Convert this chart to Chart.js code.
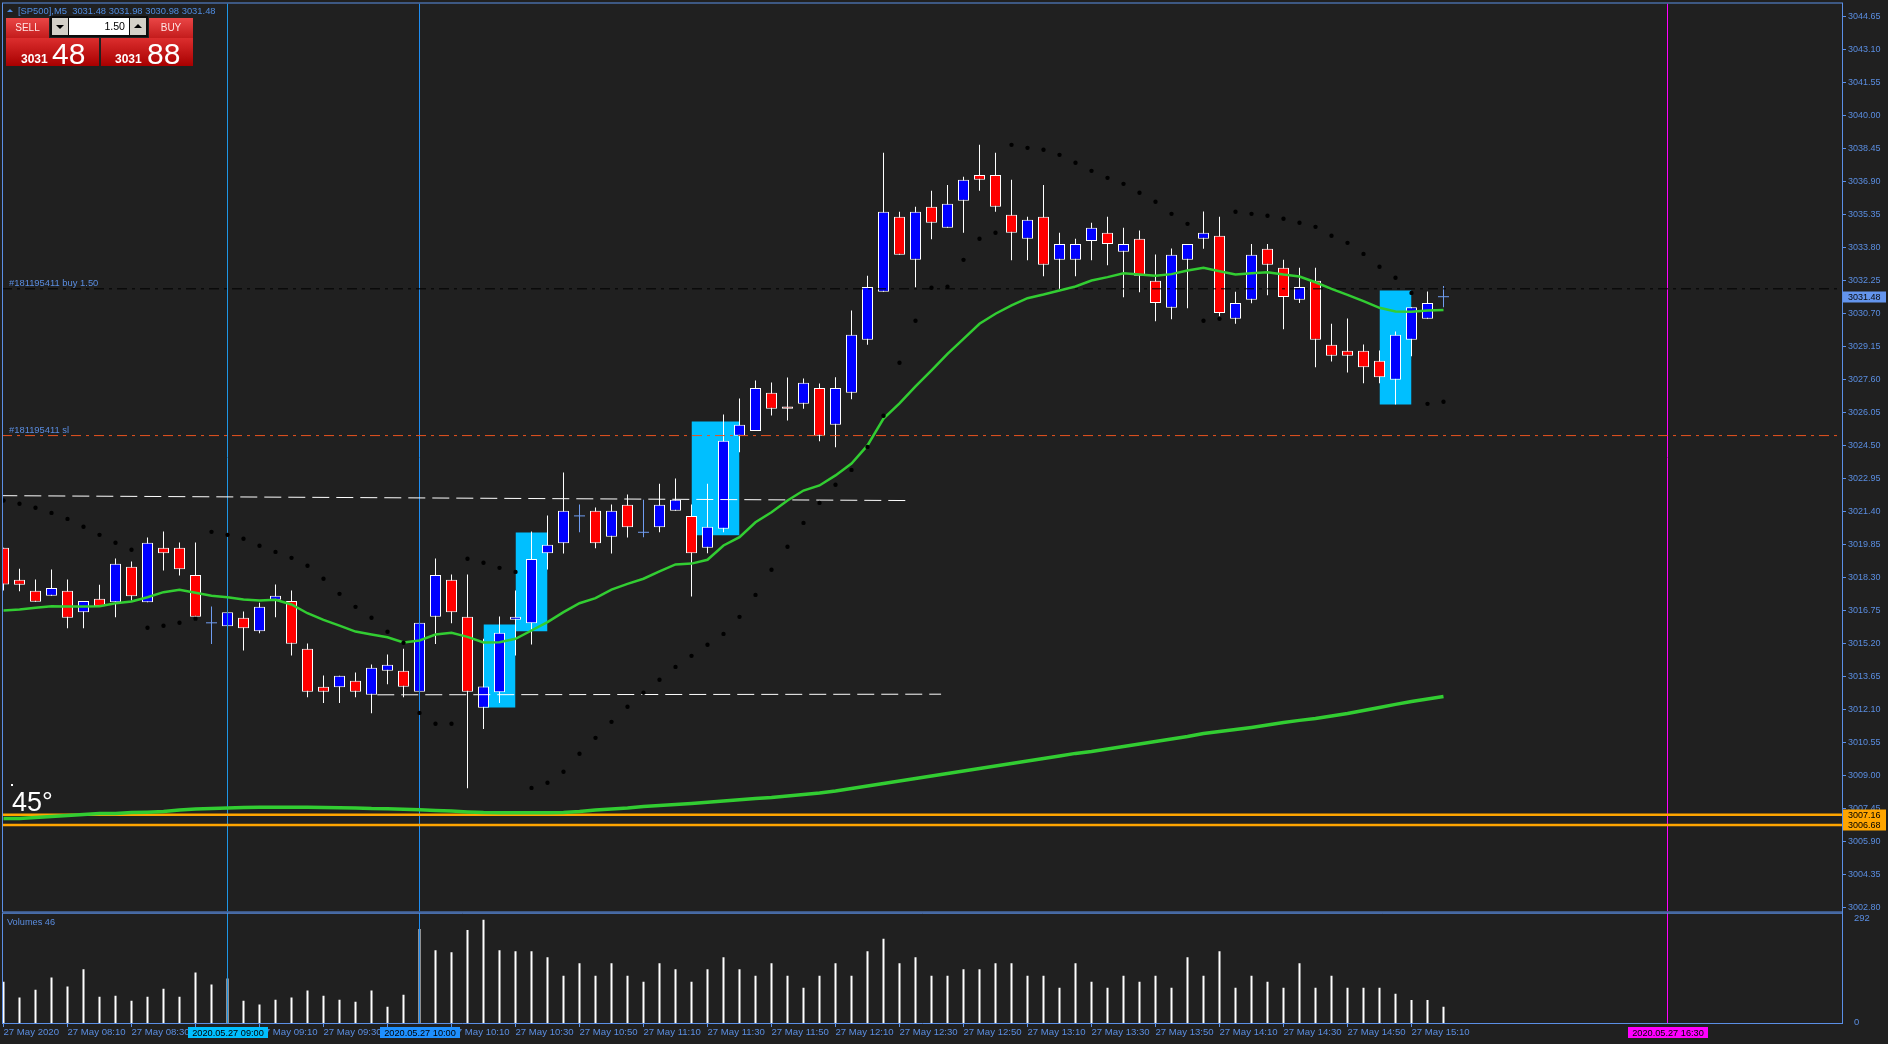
<!DOCTYPE html>
<html>
<head>
<meta charset="utf-8">
<script src="https://cdn.jsdelivr.net/npm/chart.js@4.4.1/dist/chart.umd.min.js"></script>
<style>
html, body { margin: 0; padding: 0; background: #202020; width: 1888px; height: 1044px; overflow: hidden; font-family: "Liberation Sans", Arial, sans-serif; }
#main { position: absolute; left: 0; top: 0; }
#vol { position: absolute; left: 0; top: 912px; }
.ov { position: absolute; white-space: nowrap; }
#hdr { left: 18px; top: 6px; font-size: 9.4px; line-height: 10px; color: #4f8ce0; }
#tri { left: 7px; top: 9px; width: 0; height: 0; border-left: 3px solid transparent; border-right: 3px solid transparent; border-bottom: 3px solid #4f8ce0; }
.tab { top: 18px; height: 20px; background: linear-gradient(#ea4646, #c41c1c); color: #ffe4e4; font-size: 10px; line-height: 20px; text-align: center; }
#sellTab { left: 6px; width: 43px; }
#buyTab { left: 149px; width: 44px; }
#spin { left: 50px; top: 16px; width: 98px; height: 21px; background: #0c0c0c; }
.btn { top: 18px; width: 16px; height: 17px; background: #d4d0c8; }
#dn { left: 52px; }
#up { left: 130px; }
.arr { position: absolute; left: 4px; width: 0; height: 0; border-left: 4px solid transparent; border-right: 4px solid transparent; }
#dn .arr { top: 7px; border-top: 4px solid #000; }
#up .arr { top: 6px; border-bottom: 4px solid #000; }
#lot { left: 69px; top: 18px; width: 56px; height: 17px; padding-right: 4px; background: #fff; color: #000; font-size: 10.6px; line-height: 17px; text-align: right; }
.pbox { top: 38px; height: 28px; background: linear-gradient(#dc2e2e, #a80000); color: #fff; overflow: hidden; }
#sellBox { left: 6px; width: 93px; }
#buyBox { left: 101px; width: 92px; }
.sm { position: absolute; top: 15px; font-size: 12px; line-height: 12px; font-weight: bold; }
.bg { position: absolute; top: 1px; font-size: 30px; line-height: 30px; }
#deg { left: 12px; top: 789px; font-size: 27px; line-height: 27px; color: #fff; }
#dot { left: 11px; top: 784px; width: 2px; height: 2px; background: #fff; }
</style>
</head>
<body>
<canvas id="main" width="1888" height="912"></canvas>
<canvas id="vol" width="1888" height="132"></canvas>

<div class="ov" id="tri"></div>
<div class="ov" id="hdr">[SP500],M5&nbsp; 3031.48 3031.98 3030.98 3031.48</div>
<div class="ov tab" id="sellTab">SELL</div>
<div class="ov tab" id="buyTab">BUY</div>
<div class="ov" id="spin"></div>
<div class="ov btn" id="dn"><div class="arr"></div></div>
<div class="ov" id="lot">1.50</div>
<div class="ov btn" id="up"><div class="arr"></div></div>
<div class="ov pbox" id="sellBox"><span class="sm" style="left:15px">3031</span><span class="bg" style="left:46px">48</span></div>
<div class="ov pbox" id="buyBox"><span class="sm" style="left:14px">3031</span><span class="bg" style="left:46px">88</span></div>
<div class="ov" id="dot"></div>
<div class="ov" id="deg">45°</div>

<script>
// M5 bars, 27 May 2020 07:50 .. 15:20
const opens = [3019.69,3018.19,3017.67,3017.44,3017.67,3016.67,3017.30,3017.14,3018.80,3017.14,
  3019.69,3019.69,3018.42,3016.17,3016.01,3016.41,3015.78,3017.25,3017.20,3014.95,
  3013.17,3013.15,3013.45,3012.79,3013.92,3013.92,3012.93,3016.45,3018.19,3016.45,
  3012.18,3012.91,3016.31,3016.15,3019.44,3019.91,3021.19,3021.43,3020.21,3021.71,
  3020.42,3020.66,3021.43,3021.19,3019.69,3020.59,3024.95,3025.17,3026.97,3026.33,
  3026.45,3027.20,3025.47,3026.97,3029.46,3031.71,3035.23,3033.21,3035.70,3034.72,
  3035.98,3037.20,3037.20,3035.33,3034.20,3035.23,3033.21,3033.21,3034.10,3034.48,
  3033.59,3034.20,3032.23,3030.96,3033.21,3034.20,3034.34,3030.44,3031.34,3033.73,
  3032.84,3031.34,3032.23,3029.22,3028.94,3028.94,3028.47,3027.58,3029.46,3030.44,
  3031.48];
const highs = [3019.69,3018.71,3018.20,3018.67,3018.20,3017.20,3017.96,3019.19,3019.05,3020.17,
  3020.46,3019.94,3019.94,3016.94,3016.67,3016.70,3017.11,3017.97,3017.69,3015.20,
  3013.70,3013.68,3013.84,3014.21,3014.68,3014.95,3016.17,3019.19,3018.44,3018.44,
  3015.42,3016.47,3017.69,3020.46,3021.21,3023.23,3021.72,3021.58,3021.72,3022.19,
  3021.95,3022.70,3022.95,3021.72,3022.70,3025.95,3026.70,3027.55,3027.45,3027.69,
  3027.64,3027.41,3027.70,3030.83,3032.46,3038.24,3035.47,3035.70,3036.45,3036.73,
  3037.11,3038.61,3038.24,3036.97,3035.23,3036.73,3034.48,3034.20,3034.95,3035.23,
  3034.72,3034.59,3033.46,3033.74,3033.96,3035.48,3035.23,3031.71,3033.96,3033.96,
  3033.21,3032.84,3032.84,3030.21,3030.46,3029.24,3028.95,3029.85,3030.99,3031.72,
  3031.98];
const lows = [3017.69,3017.65,3017.16,3017.44,3015.92,3015.92,3016.95,3016.43,3017.22,3017.14,
  3018.63,3018.39,3016.28,3015.17,3016.01,3014.87,3015.68,3016.43,3014.64,3012.68,
  3012.40,3012.40,3012.68,3011.93,3013.29,3012.68,3012.93,3015.17,3016.15,3008.40,
  3011.19,3012.40,3014.64,3015.15,3018.67,3019.42,3020.42,3019.67,3019.42,3020.17,
  3020.19,3020.42,3021.43,3017.41,3019.44,3020.42,3024.18,3025.17,3025.90,3025.67,
  3026.22,3024.70,3024.41,3026.67,3029.22,3031.71,3033.45,3031.93,3034.18,3034.72,
  3034.48,3036.45,3035.47,3033.19,3033.19,3032.44,3031.85,3032.44,3033.19,3032.96,
  3031.46,3031.69,3030.33,3030.42,3030.94,3033.73,3030.56,3030.21,3031.17,3031.55,
  3029.95,3031.19,3028.17,3028.44,3027.92,3027.42,3027.42,3026.42,3028.69,3030.44,
  3030.98];
const closes = [3017.97,3017.96,3017.16,3017.81,3016.41,3017.20,3016.95,3018.94,3017.42,3019.93,
  3019.44,3018.69,3016.45,3016.17,3016.67,3015.92,3016.92,3017.44,3015.19,3012.93,
  3012.93,3013.68,3012.93,3014.06,3014.20,3013.17,3016.17,3018.42,3016.67,3012.93,
  3013.18,3015.70,3016.45,3019.17,3019.83,3021.43,3021.19,3019.91,3021.43,3020.66,
  3020.42,3021.71,3021.95,3019.44,3020.68,3024.72,3025.47,3027.20,3026.22,3026.22,
  3027.44,3024.95,3027.20,3029.69,3031.94,3035.47,3033.45,3035.47,3034.95,3035.84,
  3036.97,3036.97,3035.70,3034.48,3035.09,3032.98,3033.96,3033.96,3034.72,3033.96,
  3033.96,3032.46,3031.19,3033.45,3033.96,3034.48,3030.72,3031.19,3033.45,3032.98,
  3031.47,3031.94,3029.46,3028.71,3028.71,3028.17,3027.70,3029.69,3030.99,3031.19,
  3031.48];
const volumes = [117,72,94,129,103,152,74,77,63,74,
  97,74,143,109,126,63,52,66,72,92,
  77,66,60,92,46,80,266,206,200,263,
  292,206,203,203,186,134,169,134,169,134,
  117,169,152,117,152,186,152,134,169,134,
  100,134,169,134,203,238,169,186,134,134,
  152,152,169,169,134,134,100,169,117,100,
  134,117,134,100,186,134,203,100,134,117,
  100,169,100,134,100,100,100,83,65,65,
  46];
const maFast = [3016.75,3016.80,3016.88,3016.95,3016.94,3016.94,3016.95,3017.09,3017.17,3017.37,
  3017.61,3017.72,3017.58,3017.44,3017.37,3017.26,3017.22,3017.25,3017.03,3016.62,
  3016.31,3016.04,3015.76,3015.62,3015.49,3015.25,3015.34,3015.62,3015.70,3015.51,
  3015.25,3015.26,3015.42,3015.81,3016.20,3016.67,3017.09,3017.33,3017.73,3018.00,
  3018.24,3018.59,3018.91,3018.95,3019.13,3019.80,3020.19,3020.89,3021.36,3021.91,
  3022.38,3022.62,3023.09,3023.65,3024.50,3025.76,3026.47,3027.27,3028.02,3028.80,
  3029.50,3030.21,3030.68,3031.07,3031.41,3031.58,3031.77,3031.96,3032.24,3032.40,
  3032.58,3032.52,3032.46,3032.54,3032.71,3032.84,3032.68,3032.52,3032.58,3032.63,
  3032.52,3032.43,3032.16,3031.85,3031.57,3031.27,3030.96,3030.79,3030.77,3030.83,
  3030.86];
const maSlow = [3006.98,3006.98,3007.03,3007.08,3007.12,3007.17,3007.22,3007.22,3007.26,3007.28,
  3007.31,3007.38,3007.43,3007.45,3007.48,3007.50,3007.51,3007.51,3007.51,3007.51,
  3007.50,3007.49,3007.48,3007.45,3007.44,3007.42,3007.39,3007.36,3007.33,3007.29,
  3007.26,3007.25,3007.25,3007.25,3007.25,3007.26,3007.31,3007.38,3007.43,3007.48,
  3007.55,3007.59,3007.64,3007.69,3007.75,3007.80,3007.86,3007.92,3007.97,3008.04,
  3008.11,3008.18,3008.27,3008.39,3008.51,3008.63,3008.74,3008.86,3008.98,3009.10,
  3009.21,3009.33,3009.45,3009.57,3009.68,3009.80,3009.92,3010.04,3010.13,3010.25,
  3010.36,3010.48,3010.60,3010.72,3010.83,3010.97,3011.07,3011.16,3011.26,3011.37,
  3011.49,3011.59,3011.68,3011.80,3011.91,3012.05,3012.19,3012.34,3012.48,3012.59,
  3012.71];
const sar = [3021.91,3021.76,3021.57,3021.33,3021.05,3020.68,3020.30,3019.93,3019.60,3015.94,
  3016.03,3016.17,3016.36,3020.44,3020.30,3020.12,3019.79,3019.50,3019.22,3018.85,
  3018.24,3017.53,3016.92,3016.41,3015.75,3015.23,3011.94,3011.43,3011.43,3019.18,
  3018.99,3018.75,3018.56,3008.42,3008.66,3009.18,3010.02,3010.77,3011.52,3012.23,
  3012.89,3013.50,3014.10,3014.62,3015.14,3015.65,3016.45,3017.48,3018.66,3019.74,
  3020.86,3021.80,3022.65,3023.35,3024.43,3025.89,3028.38,3030.35,3031.90,3031.95,
  3033.21,3034.20,3034.48,3038.61,3038.47,3038.38,3038.14,3037.77,3037.39,3037.06,
  3036.78,3036.36,3035.94,3035.37,3034.90,3030.35,3030.44,3035.47,3035.37,3035.28,
  3035.14,3034.95,3034.76,3034.34,3034.01,3033.49,3032.89,3032.37,3031.66,3026.45,
  3026.55];

const priceTicks = [3002.80,3004.35,3005.90,3007.45,3009.00,3010.55,3012.10,3013.65,3015.20,3016.75,
  3018.30,3019.85,3021.40,3022.95,3024.50,3026.05,3027.60,3029.15,3030.70,3032.25,
  3033.80,3035.35,3036.90,3038.45,3040.00,3041.55,3043.10,3044.65];
const timeLabels = ['27 May 2020','27 May 08:10','27 May 08:30','27 May 08:50','27 May 09:10','27 May 09:30',
  '27 May 09:50','27 May 10:10','27 May 10:30','27 May 10:50','27 May 11:10','27 May 11:30',
  '27 May 11:50','27 May 12:10','27 May 12:30','27 May 12:50','27 May 13:10','27 May 13:30',
  '27 May 13:50','27 May 14:10','27 May 14:30','27 May 14:50','27 May 15:10'];
const volumeTicks = [0, 292];

// chart objects
const boxFrom = [30, 32, 43, 86];
const boxTo = [32, 34, 46, 88];
const boxTop = [3016.09, 3020.41, 3025.62, 3031.77];
const boxBottom = [3012.19, 3015.78, 3020.28, 3026.42];
const trendFrom = [[-0.2, 3022.14], [23.36, 3012.79]];
const trendTo = [[56.6, 3021.91], [58.6, 3012.82]];
const orderPrices = [3031.85, 3024.96];
const orderLabels = ['#181195411 buy 1.50', '#181195411 sl'];
const levelPrices = [3007.16, 3006.68];
const vLineIdx = [14, 26, 104];
const vLineLabels = ['2020.05.27 09:00', '2020.05.27 10:00', '2020.05.27 16:30'];
const bidPrice = 3031.48;

const AXIS = '#5b8fe6';
const TXT = '#5a8de0';
const FONT = '"Liberation Sans", Arial, sans-serif';
const DOJI = '#6f9cf0';
const X_MIN = -0.09375, X_MAX = 114.90625;
const Y_MIN = 3002.617, Y_MAX = 3045.246;
const V_MAX = 312;
const vLineColors = ['#1e96e6', '#1e8cf0', '#ff00ff'];
const vLabelBg = ['#00bfff', '#1e90ff', '#ff00ff'];

const idx = opens.map((_, i) => i);
const isDoji = i => Math.abs(opens[i] - closes[i]) < 0.005;

const datasets = [];

// parabolic sar
datasets.push({ type: 'scatter', order: 1, data: idx.map(i => ({ x: i, y: sar[i] })),
  pointStyle: 'circle', pointRadius: 2.2, backgroundColor: '#000', borderWidth: 0 });
// moving averages
datasets.push({ type: 'line', order: 2, data: idx.map(i => ({ x: i, y: maFast[i] })),
  borderColor: '#32cd32', borderWidth: 2.5, pointRadius: 0, tension: 0 });
datasets.push({ type: 'line', order: 3, data: idx.map(i => ({ x: i, y: maSlow[i] })),
  borderColor: '#32cd32', borderWidth: 3.5, pointRadius: 0, tension: 0 });
// orange levels
levelPrices.forEach(p => datasets.push({ type: 'line', order: 4,
  data: [{ x: X_MIN, y: p }, { x: X_MAX, y: p }], borderColor: '#ffa500', borderWidth: 2.5, pointRadius: 0 }));
// order lines
orderPrices.forEach((p, k) => datasets.push({ type: 'line', order: 4,
  data: [{ x: X_MIN, y: p }, { x: X_MAX, y: p }], borderColor: k === 0 ? '#000000' : '#e8531f',
  borderWidth: 1, borderDash: [10, 5, 3, 5], pointRadius: 0 }));
// trend lines
trendFrom.forEach((a, k) => datasets.push({ type: 'line', order: 4,
  data: [{ x: a[0], y: a[1] }, { x: trendTo[k][0], y: trendTo[k][1] }], borderColor: '#ffffff',
  borderWidth: 1, borderDash: [17, 7], pointRadius: 0 }));
// vertical lines
vLineIdx.forEach((v, k) => datasets.push({ type: 'line', order: 4,
  data: [{ x: v, y: Y_MIN }, { x: v, y: Y_MAX }], borderColor: vLineColors[k], borderWidth: 1, pointRadius: 0 }));
// doji crosses
datasets.push({ type: 'scatter', order: 5, data: idx.filter(isDoji).map(i => ({ x: i, y: opens[i] })),
  pointStyle: 'line', pointRadius: 5.5, borderColor: DOJI, borderWidth: 1 });
// candle bodies
datasets.push({ type: 'bar', order: 6, grouped: false, barThickness: 11, inflateAmount: 0,
  data: idx.filter(i => !isDoji(i)).map(i => ({ x: i, y: [opens[i], closes[i]] })),
  backgroundColor: c => (c.raw && c.raw.y[1] > c.raw.y[0]) ? '#0000ff' : '#ff0000',
  borderColor: '#ffffff', borderWidth: 1, borderSkipped: false });
// wicks
datasets.push({ type: 'bar', order: 7, grouped: false, barThickness: 1, inflateAmount: 0,
  data: idx.map(i => ({ x: i, y: [lows[i], highs[i]] })),
  backgroundColor: c => (c.raw && isDoji(c.raw.x)) ? DOJI : '#ffffff', borderWidth: 0 });
// rectangles
boxFrom.forEach((f, k) => datasets.push({ type: 'line', order: 8,
  data: [{ x: f, y: boxTop[k] }, { x: boxTo[k], y: boxTop[k] }],
  fill: { value: boxBottom[k] }, backgroundColor: '#00bfff', borderWidth: 0, pointRadius: 0 }));

const tag = (ctx, right, y, text, bg, fg) => {
  ctx.fillStyle = bg;
  ctx.fillRect(right + 1, Math.round(y) - 5.5, 43, 11);
  ctx.fillStyle = fg;
  ctx.font = '9px ' + FONT;
  ctx.textBaseline = 'middle';
  ctx.textAlign = 'left';
  ctx.fillText(text, right + 6, y + 0.5);
};

const mainDecor = {
  id: 'mainDecor',
  afterDraw(chart) {
    const { ctx, chartArea: a, scales: { y } } = chart;
    ctx.save();
    ctx.strokeStyle = AXIS;
    ctx.lineWidth = 1;
    ctx.strokeRect(a.left + 0.5, a.top - 0.5, a.right - a.left, a.bottom - a.top + 1);
    ctx.font = '9.4px ' + FONT;
    ctx.fillStyle = TXT;
    ctx.textBaseline = 'alphabetic';
    orderPrices.forEach((p, k) => ctx.fillText(orderLabels[k], a.left + 7, y.getPixelForValue(p) - 2.5));
    tag(ctx, a.right, y.getPixelForValue(bidPrice), bidPrice.toFixed(2), '#6495ed', '#0a0a0a');
    levelPrices.forEach(p => tag(ctx, a.right, y.getPixelForValue(p), p.toFixed(2), '#ffa500', '#000'));
    ctx.restore();
  }
};

const baseOpts = {
  responsive: false, maintainAspectRatio: false, animation: false, devicePixelRatio: 1,
  plugins: { legend: { display: false }, tooltip: { enabled: false } }
};

const mainChart = new Chart(document.getElementById('main'), {
  type: 'bar',
  data: { datasets },
  plugins: [mainDecor],
  options: Object.assign({}, baseOpts, {
    layout: { autoPadding: false, padding: 0 },
    scales: {
      x: { type: 'linear', display: false, min: X_MIN, max: X_MAX, offset: false, grid: { offset: false } },
      y: {
        type: 'linear', position: 'right', min: Y_MIN, max: Y_MAX,
        afterFit: s => { s.width = 46; },
        afterBuildTicks: s => { s.ticks = priceTicks.map(v => ({ value: v })); },
        grid: { drawOnChartArea: false, tickLength: 4, color: AXIS },
        border: { color: AXIS },
        ticks: { color: TXT, padding: 2, font: { family: FONT, size: 9, lineHeight: 1 }, callback: v => v.toFixed(2) }
      }
    }
  })
});

// volume panel
const volDatasets = [{
  type: 'bar', order: 2, grouped: false, barThickness: 2, inflateAmount: 0,
  data: idx.map(i => ({ x: i, y: volumes[i] })), backgroundColor: '#ffffff', borderWidth: 0
}];
vLineIdx.forEach((v, k) => volDatasets.push({ type: 'line', order: 1,
  data: [{ x: v, y: 0 }, { x: v, y: V_MAX }], borderColor: vLineColors[k], borderWidth: 1, pointRadius: 0 }));

const volDecor = {
  id: 'volDecor',
  afterDraw(chart) {
    const { ctx, chartArea: a, scales: { x } } = chart;
    ctx.save();
    ctx.strokeStyle = AXIS;
    ctx.lineWidth = 1;
    ctx.beginPath();
    ctx.moveTo(a.left + 0.5, a.bottom);
    ctx.lineTo(a.left + 0.5, a.top + 0.5);
    ctx.lineTo(a.right, a.top + 0.5);
    ctx.stroke();
    ctx.font = '9.2px ' + FONT;
    ctx.fillStyle = TXT;
    ctx.textBaseline = 'middle';
    ctx.fillText('Volumes ' + volumes[volumes.length - 1], a.left + 5, a.top + 10);
    vLineIdx.forEach((v, k) => {
      const px = Math.round(x.getPixelForValue(v));
      ctx.fillStyle = vLabelBg[k];
      ctx.fillRect(px - 40, a.bottom + 4, 80, 11);
      ctx.fillStyle = '#000';
      ctx.textAlign = 'center';
      ctx.fillText(vLineLabels[k], px, a.bottom + 10);
    });
    ctx.restore();
  }
};

const volChart = new Chart(document.getElementById('vol'), {
  type: 'bar',
  data: { datasets: volDatasets },
  plugins: [volDecor],
  options: Object.assign({}, baseOpts, {
    layout: { autoPadding: false, padding: 0 },
    scales: {
      x: {
        type: 'linear', position: 'bottom', min: X_MIN, max: X_MAX, offset: false,
        afterFit: s => { s.height = 21; },
        afterBuildTicks: s => { s.ticks = timeLabels.map((_, k) => ({ value: k * 4 })); },
        grid: { drawOnChartArea: false, tickLength: 4, color: AXIS, offset: false },
        border: { color: AXIS },
        ticks: { color: TXT, padding: 0, align: 'start', autoSkip: false, maxRotation: 0,
          font: { family: FONT, size: 9.6 }, callback: (v, k) => timeLabels[k] }
      },
      y: {
        type: 'linear', position: 'right', min: 0, max: V_MAX,
        afterFit: s => { s.width = 46; },
        afterBuildTicks: s => { s.ticks = volumeTicks.map(v => ({ value: v })); },
        grid: { display: false },
        border: { color: AXIS },
        ticks: { color: TXT, padding: 4, labelOffset: -1, font: { family: FONT, size: 9.4, lineHeight: 1 } }
      }
    }
  })
});

// place each panel so that its plot area sits where the terminal draws it
function fitArea(chart, want) {
  const a = chart.chartArea;
  const offX = Math.round(want.left - a.left);
  const offY = Math.round(want.top - a.top);
  chart.canvas.style.left = offX + 'px';
  chart.canvas.style.top = offY + 'px';
  const w = Math.round(chart.width + want.right - (a.right + offX));
  const h = Math.round(chart.height + want.bottom - (a.bottom + offY));
  chart.resize(w, h);
}
fitArea(mainChart, { left: 2, top: 3, right: 1842, bottom: 911 });
fitArea(volChart, { left: 2, top: 913, right: 1842, bottom: 1023 });
</script>
</body>
</html>
